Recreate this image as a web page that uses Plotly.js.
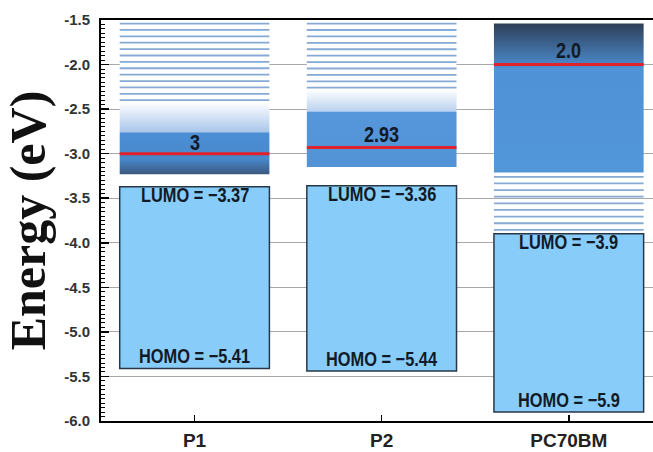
<!DOCTYPE html>
<html><head><meta charset="utf-8">
<script src="https://cdn.plot.ly/plotly-3.0.1.min.js"></script>
<style>html,body{margin:0;padding:0;background:#fff;overflow:hidden}#chart{width:653px;height:452px}
.annotation-text{transform-box:fill-box;transform-origin:center;transform:scaleX(0.82)}</style>
</head><body><div id="chart"></div>
<script>
// ---- data ----
const materials = ['P1', 'P2', 'PC70BM'];
const xPos = [0, 1, 2];
const lumo = [-3.37, -3.36, -3.9];
const homo = [-5.41, -5.44, -5.9];
const gapLabel = ['3', '2.93', '2.0'];
const gapLabelLevel = [-2.87, -2.78, -1.84];
const redLevel = [-3.0, -2.93, -2.0];
const bandTop = [-1.53, -1.53, -1.54];
const bandBottom = [-3.23, -3.15, -3.21];
const stripeFirst = [-1.54, -1.54, -3.26];
const stripeLast = [-2.40, -2.26, -3.855];
const stripeCount = [13, 11, 9];
const yTickVals = [-1.5, -2.0, -2.5, -3.0, -3.5, -4.0, -4.5, -5.0, -5.5, -6.0];
const yTickText = ['-1.5', '-2.0', '-2.5', '-3.0', '-3.5', '-4.0', '-4.5', '-5.0', '-5.5', '-6.0'];

// ---- styles ----
const HW = 0.4;
const bandScales = [
  [[0, '#3b5880'], [0.1, '#4988cb'], [0.272, '#4c8fd5'], [0.278, '#a9c6ea'], [0.476, '#ffffff'], [1, '#ffffff']],
  [[0, '#5293d6'], [0.38, '#5597da'], [0.386, '#b9d1ef'], [0.537, '#ffffff'], [1, '#ffffff']],
  [[0, '#5297da'], [0.70, '#4f92d5'], [0.725, '#4a87c8'], [1, '#2e3f58']]
];
const labelFont = {family: 'Liberation Sans, Arial, sans-serif', size: 20, weight: 'bold', color: '#111a26'};

const traces = [];
// band columns
xPos.forEach((c, i) => {
  traces.push({
    type: 'scatter', mode: 'lines', fill: 'toself', hoverinfo: 'skip', showlegend: false,
    x: [c - HW, c + HW, c + HW, c - HW, c - HW],
    y: [bandBottom[i], bandBottom[i], bandTop[i], bandTop[i], bandBottom[i]],
    line: {width: 0},
    fillgradient: {type: 'vertical', start: bandBottom[i], stop: bandTop[i], colorscale: bandScales[i]}
  });
});
// stripes (density-of-states texture)
const sx = [], sy = [];
xPos.forEach((c, i) => {
  const n = stripeCount[i];
  for (let k = 0; k < n; k++) {
    const v = stripeFirst[i] + (stripeLast[i] - stripeFirst[i]) * k / (n - 1);
    sx.push(c - HW, c + HW, null); sy.push(v, v, null);
  }
});
traces.push({type: 'scatter', mode: 'lines', x: sx, y: sy, hoverinfo: 'skip', showlegend: false,
  line: {color: '#86a9d6', width: 1.8}});
// red levels
const rx = [], ry = [];
xPos.forEach((c, i) => { rx.push(c - HW, c + HW, null); ry.push(redLevel[i], redLevel[i], null); });
traces.push({type: 'scatter', mode: 'lines', x: rx, y: ry, hoverinfo: 'skip', showlegend: false,
  line: {color: '#e0222b', width: 3}});
// HOMO-LUMO boxes
traces.push({type: 'bar', x: xPos, base: homo, y: lumo.map((v, i) => v - homo[i]), width: 0.8,
  hoverinfo: 'skip', showlegend: false,
  marker: {color: '#88cdf9', line: {color: '#263747', width: 1.5}}});

const annotations = [];
xPos.forEach((c, i) => {
  annotations.push({x: c, y: lumo[i], yanchor: 'top', yshift: 6, showarrow: false,
    text: 'LUMO = \u2212' + Math.abs(lumo[i]), font: labelFont});
  annotations.push({x: c, y: homo[i], yanchor: 'bottom', yshift: -1, showarrow: false,
    text: 'HOMO = \u2212' + Math.abs(homo[i]), font: labelFont});
  annotations.push({x: c, y: gapLabelLevel[i], yanchor: 'middle', showarrow: false,
    text: gapLabel[i], font: Object.assign({}, labelFont, {size: 22})});
});

const layout = {
  width: 653, height: 452,
  margin: {l: 101, r: 0, t: 20, b: 31},
  paper_bgcolor: '#ffffff', plot_bgcolor: '#ffffff',
  bargap: 0,
  xaxis: {
    range: [-0.5, 2.45], tickmode: 'array', tickvals: xPos, ticktext: materials,
    ticks: 'inside', ticklen: 6, tickwidth: 1.5, tickcolor: '#000',
    showline: true, linecolor: '#000', linewidth: 2, mirror: true,
    showgrid: false, zeroline: false, ticklabelstandoff: 1,
    tickfont: {family: 'Liberation Sans, Arial, sans-serif', size: 19, weight: 'bold', color: '#222'}
  },
  yaxis: {
    range: [-6.0, -1.5], tickmode: 'array', tickvals: yTickVals, ticktext: yTickText,
    ticks: 'inside', ticklen: 8, tickwidth: 1.5, tickcolor: '#000',
    showline: true, linecolor: '#000', linewidth: 2, mirror: false,
    showgrid: true, gridcolor: '#a8a8a8', gridwidth: 1, zeroline: false,
    minor: {tickmode: 'linear', tick0: -1.5, dtick: 0.05, ticks: 'inside', ticklen: 4, tickwidth: 1, tickcolor: '#000', showgrid: false},
    ticklabelstandoff: 6,
    tickfont: {family: 'Liberation Sans, Arial, sans-serif', size: 15, weight: 'bold', color: '#333'},
    title: {text: 'Energy (eV)', standoff: 4,
      font: {family: 'Liberation Serif, Times New Roman, serif', size: 50, weight: 'bold', color: '#111'}}
  },
  annotations: annotations
};

Plotly.newPlot('chart', traces, layout, {displayModeBar: false, staticPlot: true});
</script>
</body></html>
